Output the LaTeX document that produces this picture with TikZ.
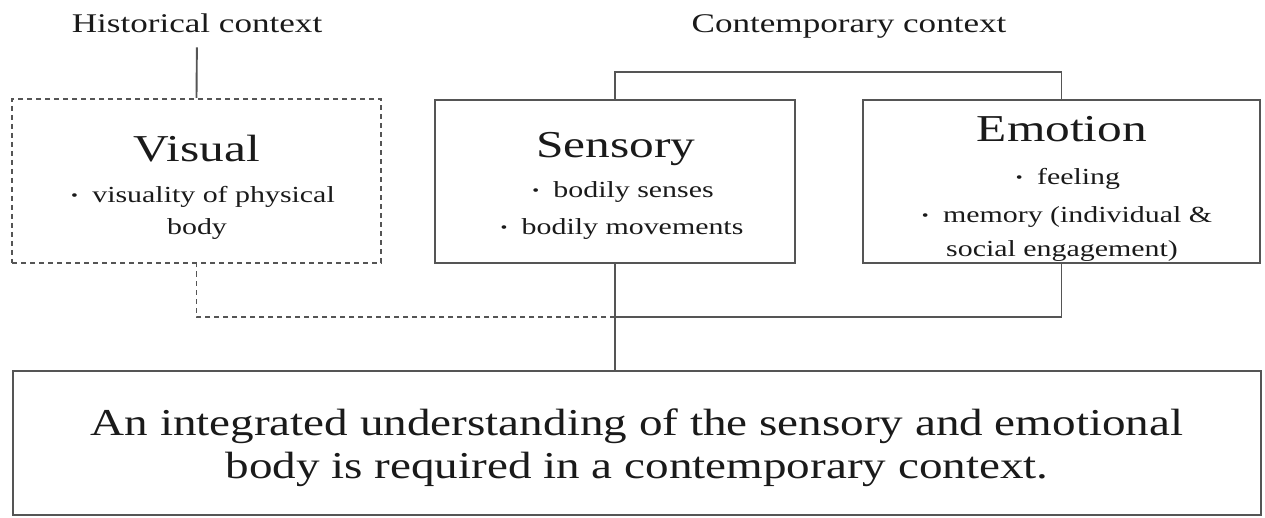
\documentclass[tikz,border=0pt]{standalone}
\usepackage{fontspec}
\setmainfont{Liberation Serif}
\usepackage{graphicx}
\definecolor{ln}{HTML}{555555}
\definecolor{tx}{HTML}{1A1A1A}
\newcommand\stt[1]{\scalebox{1.3}[1]{#1}}
\newcommand\sttb[1]{\scalebox{1.24}[1]{#1}}
\newcommand\bul{{\fontsize{15}{15}\selectfont\raisebox{2.5pt}{•}}\hspace{11pt}}
\begin{document}
\begin{tikzpicture}[x=1pt,y=-1pt,
  box/.style={draw=ln,line width=2.1pt,inner sep=0pt},
  dbox/.style={box,dash pattern=on 5pt off 4pt},
  conn/.style={draw=ln,line width=1.9pt},
  dconn/.style={conn,dash pattern=on 5pt off 4pt},
  lbl/.style={anchor=base,inner sep=0pt,text=tx},
  title/.style={lbl,font=\fontsize{38}{40}\selectfont},
  item/.style={lbl,font=\fontsize{23}{25}\selectfont},
  head/.style={lbl,font=\fontsize{27}{29}\selectfont}]
\useasboundingbox (0,0) rectangle (1265,518);
% boxes
\node[dbox,minimum width=369pt,minimum height=164pt] (visual) at (196.5,181) {};
\node[box,minimum width=360pt,minimum height=163pt] (sensory) at (615,181.5) {};
\node[box,minimum width=397pt,minimum height=163pt] (emotion) at (1061.5,181.5) {};
\node[box,minimum width=1248pt,minimum height=144pt] (bottom) at (637,443) {};
% headings
\node[head] (hist) at (197,33) {\stt{Historical context}};
\node[head] (cont) at (849,33) {\stt{Contemporary context}};
% visual
\node[title] (vt) at (197,162) {\stt{Visual}};
\node[item] (v1) at (203,203) {\stt{\bul visuality of physical}};
\node[item] (v2) at (197,235) {\stt{body}};
% sensory
\node[title] (st) at (616,158) {\stt{Sensory}};
\node[item] (s1) at (623,198) {\stt{\bul bodily senses}};
\node[item] (s2) at (622,235) {\stt{\bul bodily movements}};
% emotion
\node[title] (et) at (1062,142) {\stt{Emotion}};
\node[item] (e1) at (1068,185) {\stt{\bul feeling}};
\node[item] (e2) at (1067,223) {\stt{\bul memory (individual \&}};
\node[item] (e3) at (1062,257) {\stt{social engagement)}};
% bottom text
\node[title] (b1) at (637,435) {\sttb{An integrated understanding of the sensory and emotional}};
\node[title] (b2) at (637,478) {\sttb{body is required in a contemporary context.}};
% connectors
\coordinate (j) at (sensory.south |- 0,317);
\draw[conn,shorten <=14pt] (hist.south) -- (visual.north);
\draw[conn] (sensory.north) -- ++(0,-27) -| (emotion.north);
\draw[conn] (emotion.south) |- (j);
\draw[dconn] (j) -| (visual.south);
\draw[conn] (sensory.south) -- (sensory.south |- bottom.north);
\end{tikzpicture}
\end{document}
